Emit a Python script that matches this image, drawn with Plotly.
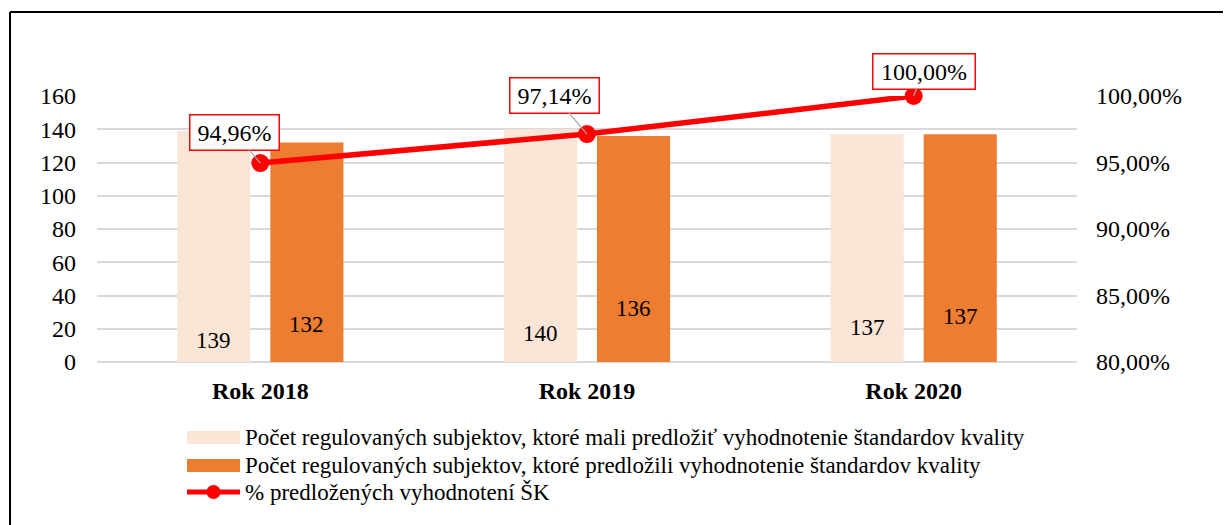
import plotly.graph_objects as go

categories = ["Rok 2018", "Rok 2019", "Rok 2020"]
expected = [139, 140, 137]
submitted = [132, 136, 137]
pct = [94.96, 97.14, 100.00]
pct_labels = ["94,96%", "97,14%", "100,00%"]
left_ticks = [0, 20, 40, 60, 80, 100, 120, 140, 160]
right_ticks = [80, 85, 90, 95, 100]
right_tick_labels = ["80,00%", "85,00%", "90,00%", "95,00%", "100,00%"]

name_expected = "Počet regulovaných subjektov, ktoré mali predložiť vyhodnotenie štandardov kvality"
name_submitted = "Počet regulovaných subjektov, ktoré predložili vyhodnotenie štandardov kvality"
name_pct = "% predložených vyhodnotení ŠK"

C_LIGHT = "#fbe5d6"
C_DARK = "#ed7d31"
C_RED = "#ff0000"
FONT = "Liberation Serif"

# page is offset by the default 8px body margin
OFF = 8
W, H = 1231 - OFF, 525 - OFF
ML, MT = 97 - OFF, 96 - OFF
PW, PH = 980, 266
MR, MB = W - ML - PW, H - MT - PH


def px(x):
    """page x pixel -> paper x"""
    return (x - OFF - ML) / PW


def py(y):
    """page y pixel -> paper y"""
    return (MT + PH - (y - OFF)) / PH


fig = go.Figure()
fig.add_trace(go.Bar(x=categories, y=expected, name=name_expected,
                     marker=dict(color=C_LIGHT, line=dict(width=0)),
                     showlegend=False))
fig.add_trace(go.Bar(x=categories, y=submitted, name=name_submitted,
                     marker=dict(color=C_DARK, line=dict(width=0)),
                     showlegend=False))
fig.add_trace(go.Scatter(x=categories, y=pct, name=name_pct, yaxis="y2",
                         mode="lines+markers", cliponaxis=False,
                         line=dict(color=C_RED, width=5.5),
                         marker=dict(color=C_RED, size=18),
                         showlegend=False))

annotations = []
# bar value labels (placed near the bar base as in the source)
label_y_exp = [13.2, 17.4, 20.5]
label_y_sub = [22.3, 31.9, 27.1]
for c, v, ly in zip(categories, expected, label_y_exp):
    annotations.append(dict(x=c, y=ly, text=str(v), showarrow=False, xshift=-46.5,
                            font=dict(family=FONT, size=23, color="black")))
for c, v, ly in zip(categories, submitted, label_y_sub):
    annotations.append(dict(x=c, y=ly, text=str(v), showarrow=False, xshift=46.5,
                            font=dict(family=FONT, size=23, color="black")))

# percentage callouts
offsets = [(-26, -31, 82), (-33, -39, 82), (10, -25, 95)]
for c, v, t, (ax, ay, w) in zip(categories, pct, pct_labels, offsets):
    annotations.append(dict(x=c, y=v, yref="y2", text=t, showarrow=True,
                            ax=ax, ay=ay, arrowhead=0, arrowwidth=1.2,
                            arrowcolor="#a6a6a6", standoff=0,
                            bgcolor="white", bordercolor=C_RED, borderwidth=1.5,
                            borderpad=3, width=w, height=28,
                            font=dict(family=FONT, size=24, color="black")))

# legend (drawn to match the wide swatches of the source)
legend_rows = [437, 465, 492]
legend_names = [name_expected, name_submitted, name_pct]
for yy, nm in zip(legend_rows, legend_names):
    annotations.append(dict(xref="paper", yref="paper", x=px(243), y=py(yy),
                            xanchor="left", yanchor="middle", showarrow=False,
                            text=nm, font=dict(family=FONT, size=23, color="black")))

shapes = [
    # chart frame (top & left edges visible)
    dict(type="line", xref="paper", yref="paper", x0=px(10), x1=px(1240),
         y0=py(12), y1=py(12), line=dict(color="black", width=2)),
    dict(type="line", xref="paper", yref="paper", x0=px(10), x1=px(10),
         y0=py(12), y1=py(540), line=dict(color="black", width=2)),
    # legend swatches
    dict(type="rect", xref="paper", yref="paper", x0=px(187), x1=px(240),
         y0=py(444), y1=py(431), fillcolor=C_LIGHT, line=dict(width=0)),
    dict(type="rect", xref="paper", yref="paper", x0=px(187), x1=px(240),
         y0=py(472), y1=py(459), fillcolor=C_DARK, line=dict(width=0)),
    dict(type="line", xref="paper", yref="paper", x0=px(187), x1=px(240),
         y0=py(492), y1=py(492), line=dict(color=C_RED, width=5)),
    dict(type="circle", xref="paper", yref="paper", x0=px(206.5), x1=px(220.5),
         y0=py(499), y1=py(485), fillcolor=C_RED, line=dict(width=0)),
]

fig.update_layout(
    width=W, height=H,
    margin=dict(l=ML, r=MR, t=MT, b=MB, autoexpand=False),
    paper_bgcolor="white", plot_bgcolor="white",
    barmode="group", bargap=0.43, bargroupgap=0.215,
    showlegend=False,
    font=dict(family=FONT, size=24, color="black"),
    xaxis=dict(showgrid=False, showline=False, ticks="", automargin=False,
               tickfont=dict(family=FONT, size=24, color="black", weight="bold"),
               ticklabelstandoff=12),
    yaxis=dict(range=[0, 160], tickvals=left_ticks, showgrid=True, automargin=False,
               gridcolor="#d9d9d9", gridwidth=1.5, zeroline=True,
               zerolinecolor="#d9d9d9", zerolinewidth=1.5, showline=False,
               ticks="", ticklabelstandoff=20,
               tickfont=dict(family=FONT, size=24, color="black")),
    yaxis2=dict(range=[80, 100], tickvals=right_ticks, ticktext=right_tick_labels,
                overlaying="y", side="right", showgrid=False, zeroline=False,
                showline=False, ticks="", ticklabelstandoff=18, automargin=False,
                tickfont=dict(family=FONT, size=24, color="black")),
    annotations=annotations,
    shapes=shapes,
)

fig.write_html("out.html")
